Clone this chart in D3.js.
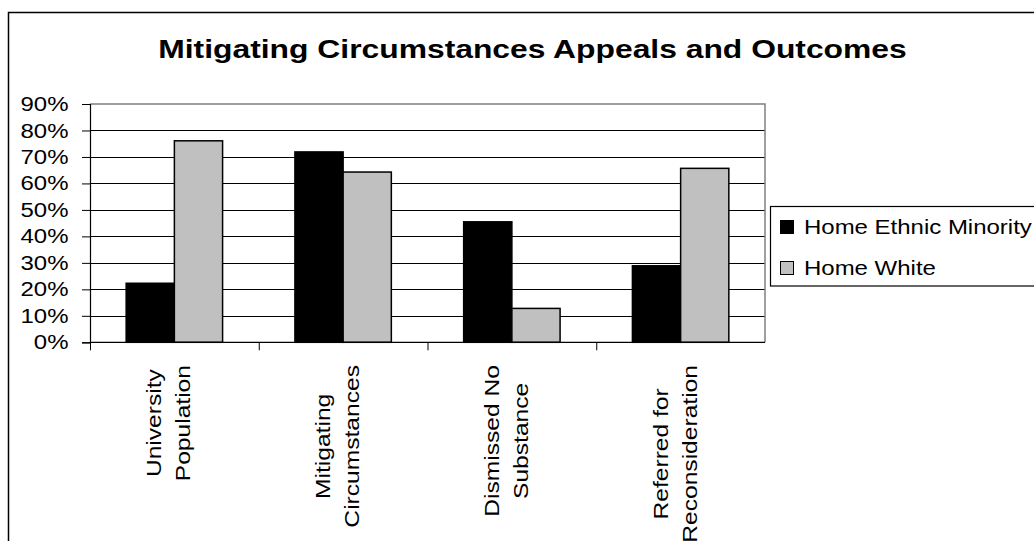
<!DOCTYPE html>
<html>
<head>
<meta charset="utf-8">
<script src="https://cdn.jsdelivr.net/npm/d3@7"></script>
<style>
  html, body { margin: 0; padding: 0; background: #fff; }
  svg { display: block; }
  text { font-family: "Liberation Sans", Arial, sans-serif; fill: #000; }
</style>
</head>
<body>
<svg id="chart" width="1034" height="541"></svg>
<script>
// Chart data
const title = "Mitigating Circumstances Appeals and Outcomes";
const categories = [
  ["University", "Population"],
  ["Mitigating", "Circumstances"],
  ["Dismissed No", "Substance"],
  ["Referred for", "Reconsideration"]
];
const seriesNames = ["Home Ethnic Minority", "Home White"];
const ethnicMinority = [22.3, 71.9, 45.5, 28.9];
const homeWhite = [76.1, 64.3, 12.8, 65.7];
const yTicks = [0, 10, 20, 30, 40, 50, 60, 70, 80, 90];
const seriesColors = ["#000000", "#c0c0c0"];

// Text in this chart is set wide along its reading direction
const SX = 1.23;

const svg = d3.select("#chart");

// Outer chart frame
svg.append("rect")
  .attr("x", 8.5).attr("y", 12.5)
  .attr("width", 1040).attr("height", 560)
  .attr("fill", "#fff").attr("stroke", "#000").attr("stroke-width", 1.5);

// Title
svg.append("text")
  .attr("transform", `translate(532.5,58) scale(${SX * 1.035},1)`)
  .attr("text-anchor", "middle")
  .style("font-weight", "bold")
  .style("font-size", "25px")
  .text(title);

// Plot area
const plot = { left: 90, right: 765, top: 104, bottom: 342.3 };

const x = d3.scaleBand()
  .domain(d3.range(categories.length))
  .range([plot.left, plot.right])
  .padding(0);

const xs = d3.scaleBand()
  .domain(d3.range(seriesNames.length))
  .range([0, x.bandwidth()])
  .paddingInner(0)
  .paddingOuter(0.75);

const y = d3.scaleLinear()
  .domain([0, 90])
  .range([plot.bottom, plot.top]);

// Gridlines
svg.append("g")
  .selectAll("line")
  .data(yTicks.filter(t => t > 0 && t < 90))
  .join("line")
  .attr("x1", plot.left).attr("x2", plot.right)
  .attr("y1", d => Math.round(y(d)) + 0.5).attr("y2", d => Math.round(y(d)) + 0.5)
  .attr("stroke", "#000").attr("stroke-width", 1);

// Plot area border (top and right)
svg.append("path")
  .attr("d", `M${plot.left},${plot.top}H${plot.right}V${plot.bottom}`)
  .attr("fill", "none").attr("stroke", "#808080").attr("stroke-width", 1.5);

// Bars
const seriesData = [ethnicMinority, homeWhite];
const groups = svg.append("g")
  .selectAll("g")
  .data(seriesData)
  .join("g")
  .attr("fill", (d, i) => seriesColors[i]);

groups.each(function(values, si) {
  d3.select(this).selectAll("rect")
    .data(values)
    .join("rect")
    .attr("x", (d, ci) => x(ci) + xs(si))
    .attr("width", xs.bandwidth())
    .attr("y", d => y(d))
    .attr("height", d => y(0) - y(d))
    .attr("stroke", "#000")
    .attr("stroke-width", 1.5);
});

// Y axis
const yAxis = svg.append("g")
  .attr("transform", `translate(${plot.left},0)`)
  .call(d3.axisLeft(y).tickValues(yTicks).tickSize(8).tickFormat(d => ""));
yAxis.select(".domain").attr("stroke", "#000").attr("stroke-width", 1.2);
yAxis.selectAll(".tick line").attr("stroke", "#000");

svg.append("g")
  .selectAll("text")
  .data(yTicks)
  .join("text")
  .attr("transform", d => `translate(68.5,${y(d)}) scale(${SX},1)`)
  .attr("text-anchor", "end")
  .attr("dy", "0.36em")
  .style("font-size", "19.5px")
  .text(d => d + "%");

// X axis
const xAxis = svg.append("g")
  .attr("transform", `translate(0,${plot.bottom})`)
  .call(d3.axisBottom(d3.scaleLinear().domain([0, categories.length]).range([plot.left, plot.right]))
    .tickValues(d3.range(categories.length)).tickSize(8).tickFormat(() => ""));
xAxis.select(".domain").attr("stroke", "#000").attr("stroke-width", 1.2).attr("d", `M${plot.left},0H${plot.right}`);
xAxis.selectAll(".tick line").attr("stroke", "#000");

// Category labels, rotated and wrapped on two centred lines
const labelTop = 365;
const lineGap = 29;
const labelG = svg.append("g");
categories.forEach((lines, ci) => {
  const cx = x(ci) + x.bandwidth() / 2;
  const g = labelG.append("g");
  const texts = lines.map(line => g.append("text")
    .attr("text-anchor", "middle")
    .style("font-size", "20px")
    .text(line));
  const maxLen = d3.max(texts, t => t.node().getComputedTextLength()) * SX;
  const cy = labelTop + maxLen / 2;
  texts.forEach((t, li) => {
    const bx = cx + 1.5 + (li - (lines.length - 1) / 2) * lineGap;
    t.attr("transform", `translate(${bx},${cy}) rotate(-90) scale(${SX},1)`);
  });
});

// Legend
const legend = svg.append("g");
legend.append("rect")
  .attr("x", 770.5).attr("y", 206.5)
  .attr("width", 300).attr("height", 79.5)
  .attr("fill", "#fff").attr("stroke", "#000").attr("stroke-width", 1.2);

seriesNames.forEach((name, i) => {
  const ry = 227 + i * 41;
  legend.append("rect")
    .attr("x", 780.5).attr("y", ry - 6.5)
    .attr("width", 13).attr("height", 13)
    .attr("fill", seriesColors[i]).attr("stroke", "#000").attr("stroke-width", 1);
  legend.append("text")
    .attr("transform", `translate(804,${ry}) scale(${SX},1)`)
    .attr("dy", "0.36em")
    .style("font-size", "19.5px")
    .text(name);
});
</script>
</body>
</html>
